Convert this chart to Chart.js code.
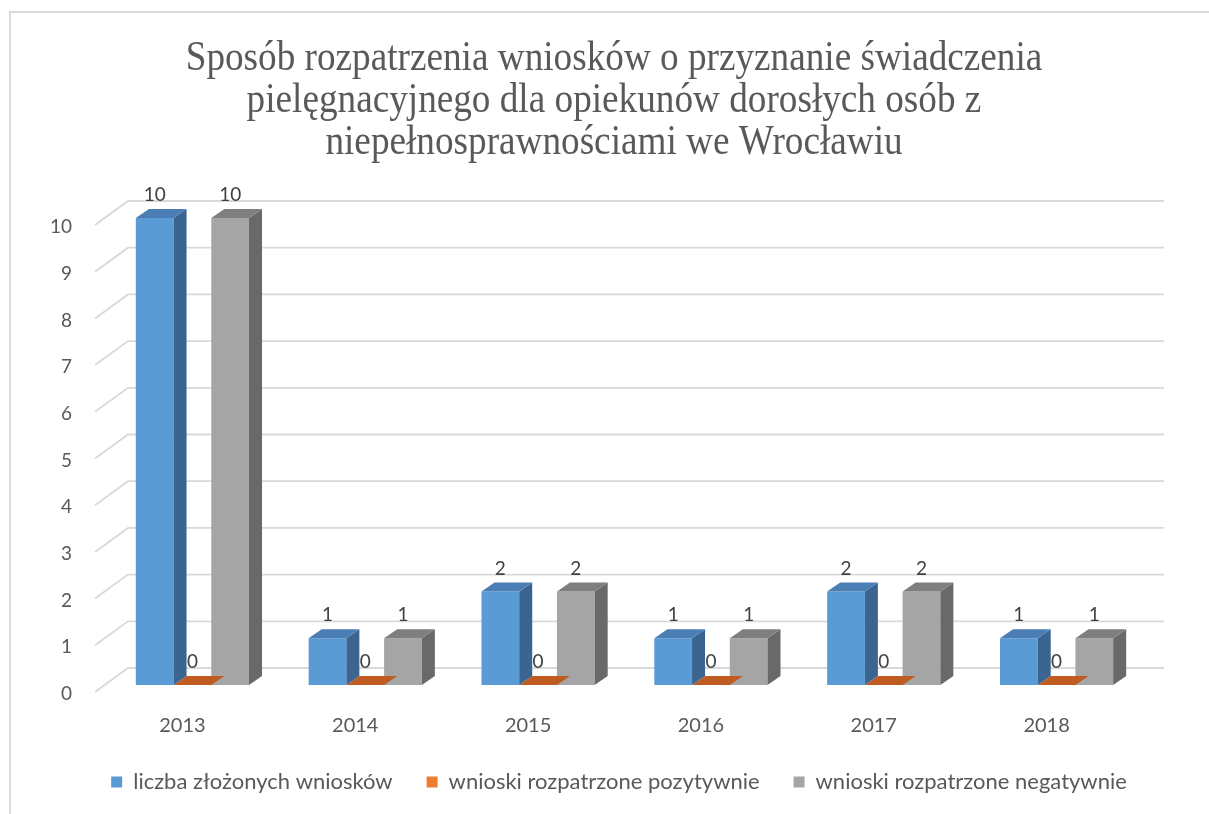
<!DOCTYPE html>
<html><head><meta charset="utf-8">
<script src="https://cdn.jsdelivr.net/npm/chart.js@4.4.1/dist/chart.umd.min.js"></script>
<style>
html,body{margin:0;padding:0;background:#fff;overflow:hidden;width:1209px;height:814px;}
#frame{position:absolute;left:9px;top:11px;width:1400px;height:1000px;border-left:2px solid #d9d9d9;border-top:2px solid #d9d9d9;}
#wrap{position:absolute;left:0;top:0;width:1240px;height:814px;}
</style></head><body>
<div id="frame"></div>
<div id="wrap"><canvas id="c" width="1240" height="814"></canvas></div>
<script>
// ---- data ----
const categories = ['2013', '2014', '2015', '2016', '2017', '2018'];
const submitted = [10, 1, 2, 1, 2, 1];
const positive = [0, 0, 0, 0, 0, 0];
const negative = [10, 1, 2, 1, 2, 1];
const seriesNames = ['liczba złożonych wniosków', 'wnioski rozpatrzone pozytywnie', 'wnioski rozpatrzone negatywnie'];
const titleLines = ['Sposób rozpatrzenia wniosków o przyznanie świadczenia', 'pielęgnacyjnego dla opiekunów dorosłych osób z', 'niepełnosprawnościami we Wrocławiu'];

// ---- styles ----
const frontColors = ['#5B9BD5', '#ED7D31', '#A5A5A5'];
const shades = [
  {top: '#4A7EB5', side: '#3A6591'},
  {top: '#BE5C22', side: '#A34B1A'},
  {top: '#7F7F7F', side: '#696969'}
];
const DX = 13, DY = -9;
const SANS = 'Lato, "Open Sans", sans-serif';

const titlePlugin = {
  id: 'serifTitle',
  afterDraw(chart) {
    const ctx = chart.ctx;
    ctx.save();
    ctx.font = '42px "Liberation Serif", "Times New Roman", serif';
    ctx.fillStyle = '#595959';
    ctx.textAlign = 'center';
    ctx.textBaseline = 'alphabetic';
    ctx.translate(614, 0);
    ctx.scale(0.886, 1);
    titleLines.forEach((line, i) => ctx.fillText(line, 0, 70 + i * 42));
    ctx.restore();
  }
};

const wallPlugin = {
  id: 'wall',
  beforeDatasetsDraw(chart) {
    const ctx = chart.ctx, ys = chart.scales.y, ca = chart.chartArea;
    ctx.save();
    ctx.strokeStyle = '#D9D9D9';
    ctx.lineWidth = 1.8;
    ys.ticks.forEach(t => {
      const py = ys.getPixelForValue(t.value);
      ctx.beginPath();
      ctx.moveTo(ca.left - 11, py + 7);
      ctx.lineTo(ca.left + 22, py - 17);
      ctx.lineTo(ca.right + 21, py - 17);
      ctx.stroke();
    });
    ctx.restore();
  }
};

const box3dPlugin = {
  id: 'box3d',
  afterDatasetDraw(chart, args) {
    const ctx = chart.ctx, s = shades[args.index];
    ctx.save();
    args.meta.data.forEach(bar => {
      const p = bar.getProps(['x', 'y', 'base', 'width'], true);
      const l = p.x - p.width / 2, r = p.x + p.width / 2;
      ctx.fillStyle = s.side;
      ctx.beginPath();
      ctx.moveTo(r, p.y); ctx.lineTo(r + DX, p.y + DY); ctx.lineTo(r + DX, p.base + DY); ctx.lineTo(r, p.base);
      ctx.closePath(); ctx.fill();
      ctx.fillStyle = s.top;
      ctx.beginPath();
      ctx.moveTo(l, p.y); ctx.lineTo(r, p.y); ctx.lineTo(r + DX, p.y + DY); ctx.lineTo(l + DX, p.y + DY);
      ctx.closePath(); ctx.fill();
    });
    ctx.restore();
  },
  afterDatasetsDraw(chart) {
    const ctx = chart.ctx;
    ctx.save();
    ctx.font = '19px ' + SANS;
    ctx.fillStyle = '#404040';
    ctx.textAlign = 'center';
    ctx.textBaseline = 'middle';
    chart.data.datasets.forEach((ds, i) => {
      chart.getDatasetMeta(i).data.forEach((bar, j) => {
        const p = bar.getProps(['x', 'y'], true);
        ctx.fillText(String(ds.data[j]), p.x, p.y - 23);
      });
    });
    ctx.restore();
  }
};

new Chart(document.getElementById('c'), {
  type: 'bar',
  data: {
    labels: categories,
    datasets: [
      {label: seriesNames[0], data: submitted, backgroundColor: frontColors[0], yAxisID: 'y'},
      {label: seriesNames[1], data: positive, backgroundColor: frontColors[1], yAxisID: 'y'},
      {label: seriesNames[2], data: negative, backgroundColor: frontColors[2], yAxisID: 'y'}
    ]
  },
  options: {
    responsive: false,
    animation: false,
    devicePixelRatio: 1,
    layout: {padding: {left: 10, right: 12, top: 218, bottom: 11}},
    datasets: {bar: {categoryPercentage: 0.655, barPercentage: 1.0, borderWidth: 0}},
    scales: {
      x: {
        grid: {display: false, drawTicks: false},
        border: {display: false},
        ticks: {color: '#595959', font: {family: SANS, size: 20}, padding: 29, labelOffset: -10},
        afterFit(s) { s.height = 52; }
      },
      y: {
        position: 'left',
        min: 0, max: 10,
        grid: {display: false, drawTicks: false},
        border: {display: false},
        ticks: {stepSize: 1, color: '#595959', font: {family: SANS, size: 19}, padding: 34, labelOffset: 9},
        afterFit(s) { s.width = 96; }
      },
      y2: {
        position: 'right',
        min: 0, max: 10,
        grid: {display: false, drawTicks: false},
        border: {display: false},
        ticks: {display: false},
        afterFit(s) { s.width = 85; }
      }
    },
    plugins: {
      title: {display: false},
      legend: {
        position: 'bottom',
        labels: {boxWidth: 11, boxHeight: 11, color: '#595959', font: {family: SANS, size: 22}, padding: 34}
      },
      tooltip: {enabled: false}
    }
  },
  plugins: [wallPlugin, box3dPlugin, titlePlugin]
});
</script>
</body></html>
